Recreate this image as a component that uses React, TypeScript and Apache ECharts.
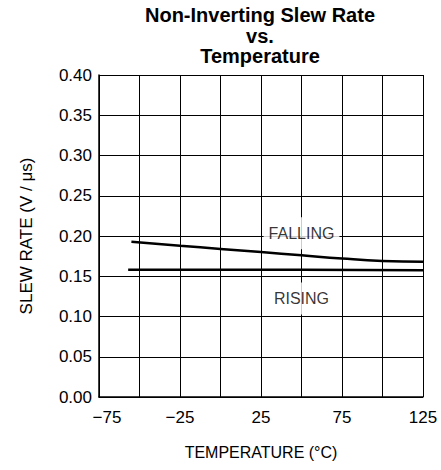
import React, { useEffect, useRef } from "react";
import * as echarts from "echarts";

const TITLE = "Non-Inverting Slew Rate\nvs.\nTemperature";
const X_NAME = "TEMPERATURE (°C)";
const Y_NAME = "SLEW RATE (V / μs)";
const X_LABELS = [-75, -25, 25, 75, 125];

const fallingTemps = [-55, -25, 0, 25, 50, 75, 100, 125];
const fallingValues = [0.193, 0.188, 0.184, 0.18, 0.176, 0.172, 0.169, 0.168];

const risingTemps = [-57, 0, 50, 125];
const risingValues = [0.158, 0.158, 0.158, 0.1575];

const curveLabels = ["FALLING", "RISING"];
const curveLabelTemps = [50, 50];
const curveLabelValues = [0.2035, 0.1225];

const FONT = "'Liberation Sans', Arial, sans-serif";

export default function App() {
  const ref = useRef<HTMLDivElement>(null);
  useEffect(() => {
    if (!ref.current) return;
    const chart = echarts.init(ref.current, null, { renderer: "svg" });
    const lineColor = "#000";
    chart.setOption({
      animation: false,
      backgroundColor: "#fff",
      title: {
        text: TITLE,
        left: 255,
        textAlign: "center",
        top: 0,
        textStyle: {
          fontFamily: FONT,
          fontWeight: "bold",
          fontSize: 20,
          lineHeight: 20.5,
          color: "#000",
        },
      },
      grid: { left: 99, right: 18, top: 75, bottom: 73, containLabel: false },
      xAxis: {
        type: "value",
        min: -75,
        max: 125,
        interval: 25,
        name: X_NAME,
        nameLocation: "middle",
        nameGap: 47,
        nameTextStyle: { fontFamily: FONT, fontSize: 16, color: "#000" },
        axisLine: {
          show: true,
          onZero: false,
          lineStyle: { color: lineColor, width: 1.5 },
        },
        axisTick: { show: false },
        axisLabel: {
          fontFamily: FONT,
          fontSize: 17,
          color: "#000",
          margin: 12,
          formatter: (v: number) => {
            if (!X_LABELS.includes(v)) return "";
            const s = String(v).replace("-", "\u2212");
            return v === X_LABELS[0] ? "{first|" + s + "}" : s;
          },
          rich: {
            first: {
              fontFamily: FONT,
              fontSize: 17,
              color: "#000",
              padding: [0, 0, 0, 16],
            },
          },
        },
        splitLine: { show: true, lineStyle: { color: lineColor, width: 1 } },
      },
      yAxis: {
        type: "value",
        min: 0,
        max: 0.4,
        interval: 0.05,
        name: Y_NAME,
        nameLocation: "middle",
        nameGap: 64,
        nameTextStyle: { fontFamily: FONT, fontSize: 17, color: "#000" },
        axisLine: {
          show: true,
          onZero: false,
          lineStyle: { color: lineColor, width: 1.5 },
        },
        axisTick: { show: false },
        axisLabel: {
          fontFamily: FONT,
          fontSize: 17,
          color: "#000",
          margin: 7,
          formatter: (v: number) => v.toFixed(2),
        },
        splitLine: { show: true, lineStyle: { color: lineColor, width: 1 } },
      },
      series: [
        {
          type: "line",
          name: "FALLING",
          data: fallingTemps.map((t, i) => [t, fallingValues[i]]),
          smooth: true,
          showSymbol: false,
          lineStyle: { color: "#000", width: 2.5 },
          z: 3,
        },
        {
          type: "line",
          name: "RISING",
          data: risingTemps.map((t, i) => [t, risingValues[i]]),
          smooth: true,
          showSymbol: false,
          lineStyle: { color: "#000", width: 2.5 },
          z: 3,
        },
        {
          type: "scatter",
          symbolSize: 0,
          data: curveLabels.map((n, i) => ({
            value: [curveLabelTemps[i], curveLabelValues[i]],
            name: n,
          })),
          label: {
            show: true,
            position: "inside",
            formatter: (p: any) => p.name,
            fontFamily: FONT,
            fontSize: 16,
            color: "#000",
            backgroundColor: "#fff",
            padding: [8, 5, 8, 5],
          },
          silent: true,
          z: 2,
        },
      ],
    });
    return () => chart.dispose();
  }, []);
  return (
    <div
      ref={ref}
      style={{ position: "fixed", left: 0, top: 0, width: 441, height: 470 }}
    />
  );
}
